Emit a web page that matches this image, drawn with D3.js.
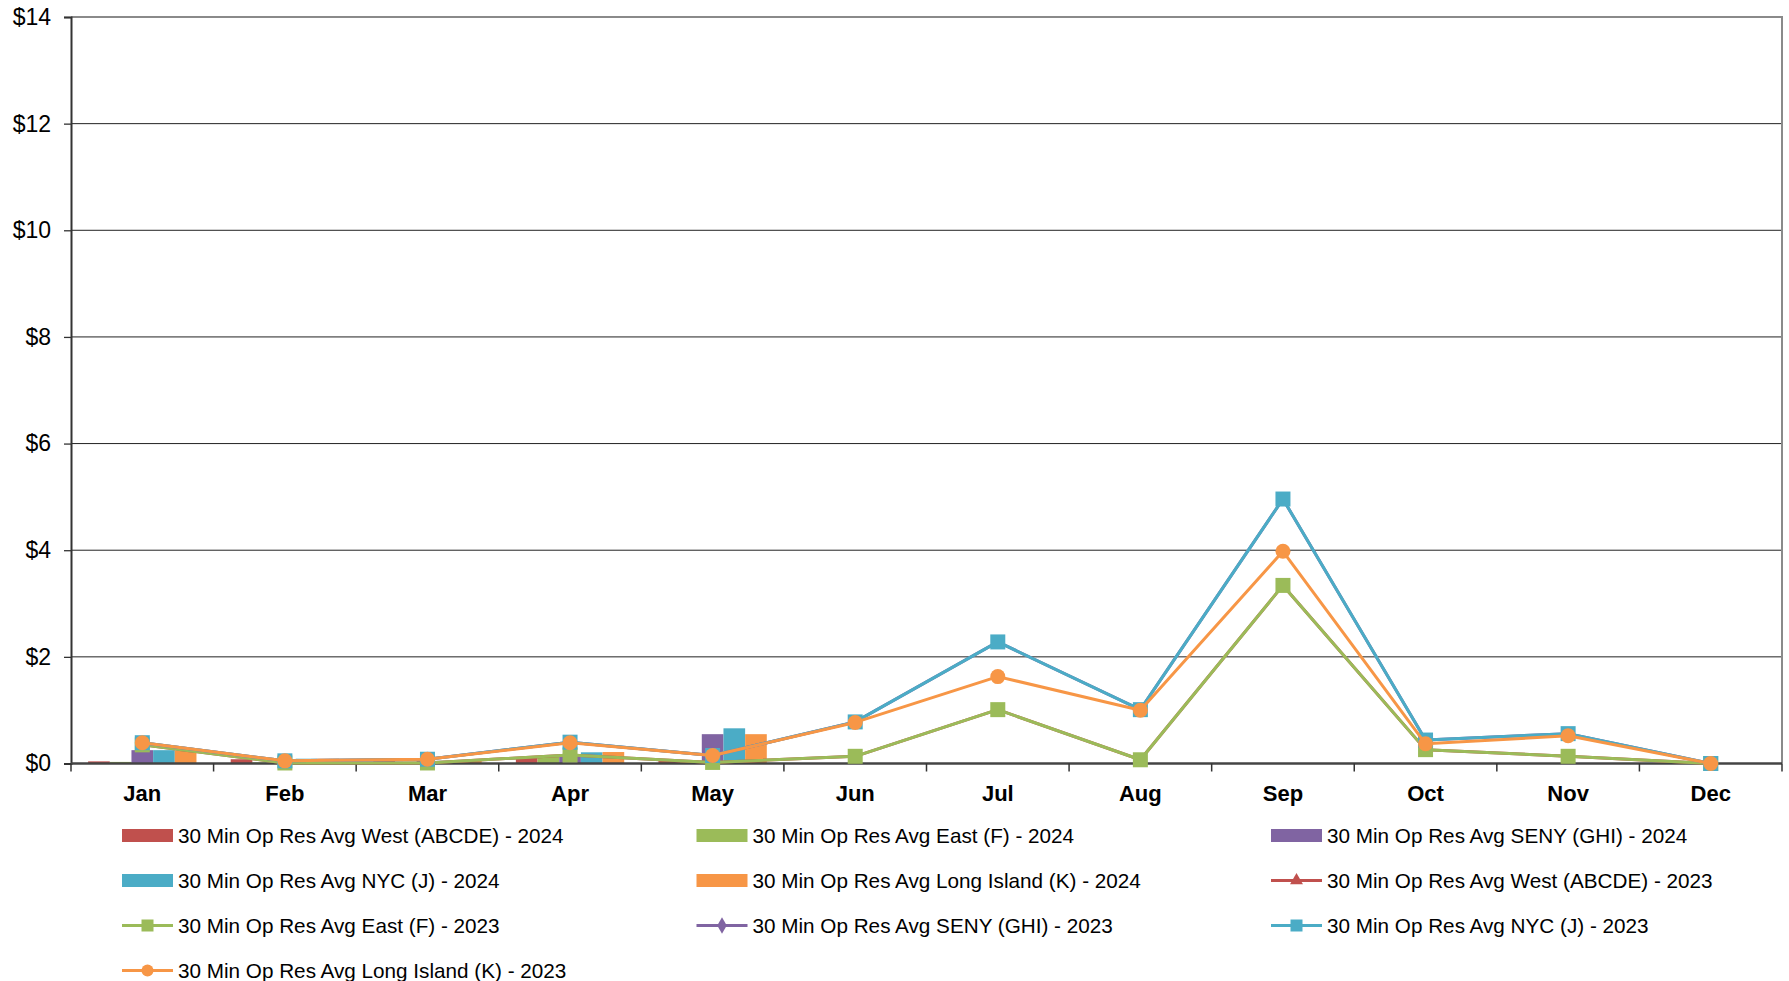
<!DOCTYPE html>
<html>
<head>
<meta charset="utf-8">
<script src="https://cdn.jsdelivr.net/npm/d3@7"></script>
<style>
  body { margin: 0; background: #fff; }
  svg { display: block; font-family: Arial, "Liberation Sans", sans-serif; }
</style>
</head>
<body>
<svg width="1789" height="981"></svg>
<script>
const months = ['Jan', 'Feb', 'Mar', 'Apr', 'May', 'Jun', 'Jul', 'Aug', 'Sep', 'Oct', 'Nov', 'Dec'];
const yTicks = [0, 2, 4, 6, 8, 10, 12, 14];

// 2024 columns (Jan - May only)
const barNames = [
  '30 Min Op Res Avg West (ABCDE) - 2024',
  '30 Min Op Res Avg East (F) - 2024',
  '30 Min Op Res Avg SENY (GHI) - 2024',
  '30 Min Op Res Avg NYC (J) - 2024',
  '30 Min Op Res Avg Long Island (K) - 2024'
];
const west2024 = [0.04, 0.08, 0.05, 0.11, 0.065];
const east2024 = [0.03, 0.02, 0.03, 0.125, 0.03];
const seny2024 = [0.25, 0.05, 0.05, 0.17, 0.55];
const nyc2024 = [0.25, 0.09, 0.05, 0.21, 0.66];
const li2024 = [0.24, 0.09, 0.05, 0.215, 0.55];

// 2023 lines
const lineNames = [
  '30 Min Op Res Avg West (ABCDE) - 2023',
  '30 Min Op Res Avg East (F) - 2023',
  '30 Min Op Res Avg SENY (GHI) - 2023',
  '30 Min Op Res Avg NYC (J) - 2023',
  '30 Min Op Res Avg Long Island (K) - 2023'
];
const west2023 = [0.35, 0.01, 0.01, 0.16, 0.02, 0.135, 1.01, 0.07, 3.34, 0.26, 0.135, 0.0];
const east2023 = [0.35, 0.01, 0.01, 0.16, 0.02, 0.135, 1.01, 0.07, 3.34, 0.26, 0.135, 0.0];
const seny2023 = [0.39, 0.05, 0.08, 0.40, 0.15, 0.78, 2.28, 1.01, 4.96, 0.44, 0.56, 0.0];
const nyc2023 = [0.39, 0.05, 0.08, 0.40, 0.15, 0.78, 2.28, 1.01, 4.96, 0.44, 0.56, 0.0];
const li2023 = [0.39, 0.05, 0.08, 0.39, 0.15, 0.77, 1.63, 1.0, 3.98, 0.37, 0.52, 0.0];

const colors = ['#C0504D', '#9BBB59', '#8064A2', '#4BACC6', '#F79646'];
const shapes = ['triangle', 'square', 'diamond', 'square', 'circle'];
const markerSizes = [11, 15, 11, 15, 15];

const barData = [west2024, east2024, seny2024, nyc2024, li2024];
const lineData = [west2023, east2023, seny2023, nyc2023, li2023];

var glue = { left: 71, top: 17, right: 7, bottom: 217.5 };
const width = 1789 - glue.left - glue.right;
const height = 981 - glue.top - glue.bottom;

var svg = d3.select('svg');
var g = svg.append('g')
  .attr('transform', 'translate(' + glue.left + ',' + glue.top + ')');

var x = d3.scaleBand()
  .domain(months)
  .range([0, width]);
var xInner = d3.scaleBand()
  .domain(d3.range(barNames.length))
  .range([0, x.bandwidth()])
  .paddingOuter(0.79);
var y = d3.scaleLinear()
  .domain([0, 14])
  .range([height, 0]);

// gridlines
g.selectAll('line.grid')
  .data(yTicks.slice(1, -1))
  .enter()
  .append('line')
  .attr('class', 'grid')
  .attr('x1', 0)
  .attr('x2', width)
  .attr('y1', d => y(d))
  .attr('y2', d => y(d))
  .attr('stroke', '#222')
  .attr('stroke-width', 1);

// frame top and right
g.append('path')
  .attr('d', 'M0,' + y(14) + 'H' + width + 'V' + y(0))
  .attr('fill', 'none')
  .attr('stroke', '#8a8a8a')
  .attr('stroke-width', 2);

// y axis
var yAxis = d3.axisLeft(y)
  .tickValues(yTicks)
  .tickSize(7)
  .tickPadding(13)
  .tickFormat(d => '$' + d);
var yG = g.append('g').call(yAxis);
yG.select('.domain').attr('stroke', '#333').attr('stroke-width', 2);
yG.selectAll('.tick line').attr('stroke', '#333').attr('stroke-width', 1.3);
yG.selectAll('.tick text')
  .attr('fill', '#000')
  .style('font-size', '23px')
  .style('font-family', 'Arial, "Liberation Sans", sans-serif');

// bars 2024
barData.forEach((vals, si) => {
  g.append('g')
    .selectAll('rect')
    .data(vals)
    .enter()
    .append('rect')
    .attr('x', (d, i) => x(months[i]) + xInner(si))
    .attr('y', d => y(d))
    .attr('width', xInner.bandwidth())
    .attr('height', d => y(0) - y(d))
    .attr('fill', colors[si]);
});

// x axis
g.append('line')
  .attr('x1', 0)
  .attr('x2', width)
  .attr('y1', y(0))
  .attr('y2', y(0))
  .attr('stroke', '#444')
  .attr('stroke-width', 2.5);
g.selectAll('line.xtick')
  .data(d3.range(months.length + 1))
  .enter()
  .append('line')
  .attr('class', 'xtick')
  .attr('x1', d => d * x.step())
  .attr('x2', d => d * x.step())
  .attr('y1', y(0))
  .attr('y2', y(0) + 8)
  .attr('stroke', '#333')
  .attr('stroke-width', 1.5);
g.selectAll('text.month')
  .data(months)
  .enter()
  .append('text')
  .attr('class', 'month')
  .attr('x', d => x(d) + x.bandwidth() / 2)
  .attr('y', y(0) + 37)
  .attr('text-anchor', 'middle')
  .style('font-size', '22px')
  .style('font-weight', 'bold')
  .text(d => d);

function marker(sel, shape, size) {
  var sym = {
    triangle: d3.symbolTriangle,
    square: d3.symbolSquare,
    diamond: d3.symbolDiamond,
    circle: d3.symbolCircle
  }[shape];
  var area = size * size;
  if (shape === 'circle') area = Math.PI * (size / 2) * (size / 2);
  if (shape === 'diamond') area = size * size * 0.4;
  if (shape === 'triangle') area = size * size * 0.5;
  return sel.attr('d', d3.symbol().type(sym).size(area));
}

// lines 2023
var line = d3.line()
  .x((d, i) => x(months[i]) + x.bandwidth() / 2)
  .y(d => y(d));
lineData.forEach((vals, si) => {
  var sg = g.append('g');
  sg.append('path')
    .datum(vals)
    .attr('d', line)
    .attr('fill', 'none')
    .attr('stroke', colors[si])
    .attr('stroke-width', 3)
    .attr('stroke-linejoin', 'round');
  sg.selectAll('path.m')
    .data(vals)
    .enter()
    .append('path')
    .attr('class', 'm')
    .attr('transform', (d, i) => 'translate(' + (x(months[i]) + x.bandwidth() / 2) + ',' + y(d) + ')')
    .call(marker, shapes[si], markerSizes[si])
    .attr('fill', colors[si]);
});

// legend
var legendItems = barNames.map((n, i) => ({ name: n, type: 'bar', idx: i }))
  .concat(lineNames.map((n, i) => ({ name: n, type: 'line', idx: i })));
var legend = svg.append('g');
legendItems.forEach((item, k) => {
  var col = k % 3, row = Math.floor(k / 3);
  var lx = 122 + col * 574.5;
  var ly = 835.5 + row * 45;
  var it = legend.append('g').attr('transform', 'translate(' + lx + ',' + ly + ')');
  if (item.type === 'bar') {
    it.append('rect')
      .attr('x', 0)
      .attr('y', -6.5)
      .attr('width', 51)
      .attr('height', 13)
      .attr('fill', colors[item.idx]);
  } else {
    it.append('line')
      .attr('x1', 0)
      .attr('x2', 51)
      .attr('stroke', colors[item.idx])
      .attr('stroke-width', 3);
    it.append('path')
      .attr('transform', 'translate(25.5,0)')
      .call(marker, shapes[item.idx], item.idx === 2 ? 14 : 12)
      .attr('fill', colors[item.idx]);
  }
  it.append('text')
    .attr('x', 56)
    .attr('y', 0)
    .attr('dy', '0.35em')
    .style('font-size', '20.7px')
    .text(item.name);
});
</script>
</body>
</html>
